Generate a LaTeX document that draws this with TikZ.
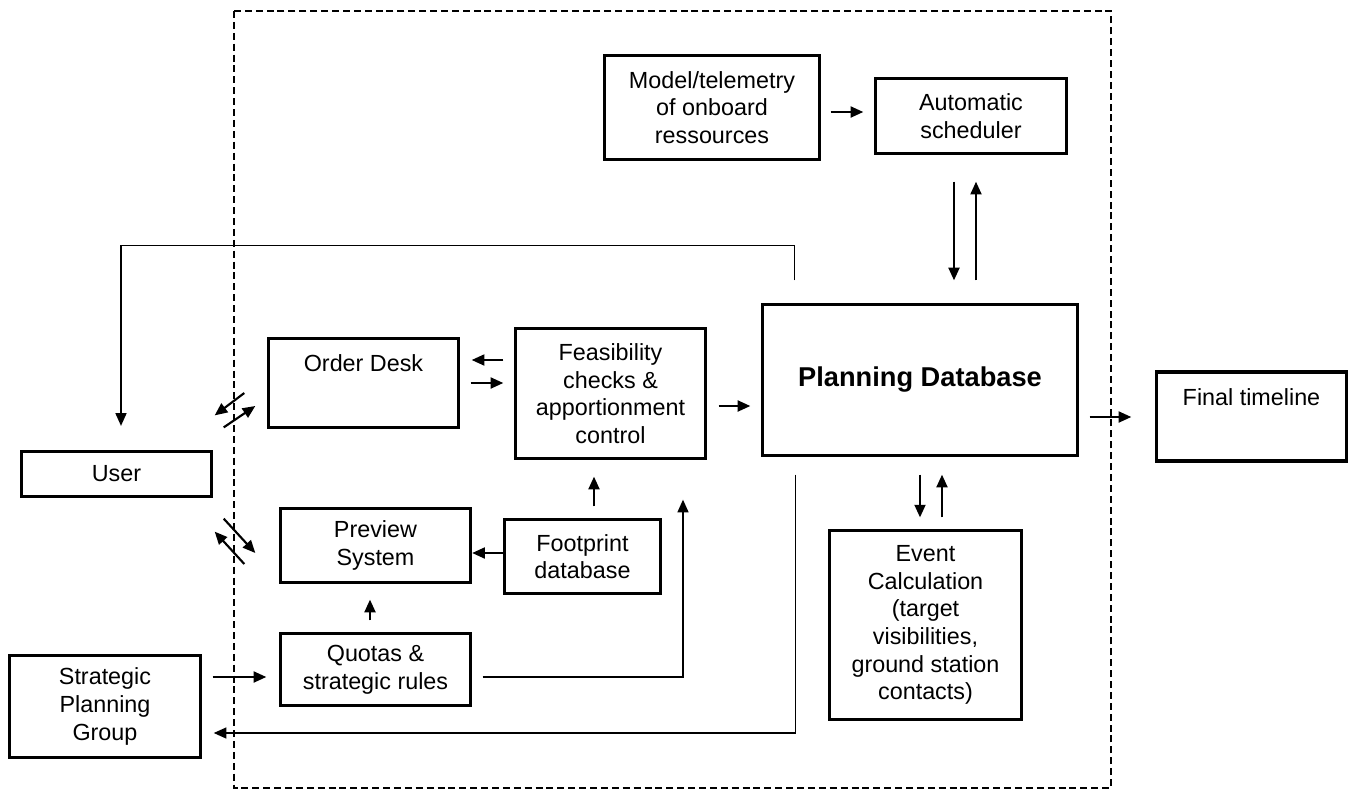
\documentclass[tikz,border=0pt]{standalone}
\usepackage{fontspec}
\setmainfont{Liberation Sans}
\usetikzlibrary{arrows.meta}
\begin{document}
\begin{tikzpicture}[x=0.514pt,y=-0.514pt,
  box/.style={draw,line width=1.7pt,align=center,inner sep=0pt,font=\fontsize{12}{14.2}\selectfont},
  topbox/.style={box,text height=8.6pt,text depth=20pt,inner ysep=8.5pt},
  arr/.style={line width=1.1pt,-{Triangle[length=6.5pt,width=5.6pt]}},
  feed/.style={line width=0.8pt,-{Triangle[length=6.5pt,width=5.6pt]}}]
  \useasboundingbox (0,0) rectangle (1349,789);
  \draw[line width=0.8pt,dash pattern=on 3.6pt off 2pt] (234,11) rectangle (1111,788);

  \node[box,minimum width=110.5pt,minimum height=53.5pt] (model) at (712,107.5) {Model/telemetry\\of onboard\\ressources};
  \node[box,minimum width=98.2pt,minimum height=38.6pt] (sched) at (971,116) {Automatic\\scheduler};
  \node[box,minimum width=161.9pt,minimum height=77.6pt,font=\fontsize{14}{17}\selectfont\bfseries] (pdb) at (920,380) {Planning Database};
  \node[topbox,minimum width=97.7pt] (final) at (1251.5,416.5) {Final timeline};
  \node[topbox,minimum width=97.7pt] (order) at (363.5,383) {Order Desk};
  \node[box,minimum width=97.7pt,minimum height=66.8pt] (feas) at (610.5,393.5) {Feasibility\\checks \&\\apportionment\\control};
  \node[box,minimum width=97.7pt,minimum height=23.1pt] (user) at (116.5,474) {User};
  \node[box,minimum width=97.7pt,minimum height=38pt] (preview) at (375.5,545.5) {Preview\\System};
  \node[box,minimum width=80.2pt,minimum height=38pt] (foot) at (582.5,556.5) {Footprint\\database};
  \node[box,minimum width=97.7pt,minimum height=37pt] (quotas) at (375.5,669.5) {Quotas \&\\strategic rules};
  \node[box,minimum width=98.2pt,minimum height=52.4pt] (strat) at (105,706.5) {Strategic\\Planning\\Group};
  \node[box,minimum width=98.7pt,minimum height=97.1pt] (event) at (925.5,625) {Event\\Calculation\\(target\\visibilities,\\ground station\\contacts)};

  \draw[arr] ([shift={(9.5,4.5)}]model.east) -- ([shift={(-10.5,-4)}]sched.west);
  \draw[arr] ([shift={(-17,26.5)}]sched.south) -- ([shift={(34,-22.5)}]pdb.north);
  \draw[arr] ([shift={(56,-22.5)}]pdb.north) -- ([shift={(5,26.5)}]sched.south);
  \draw[arr] ([shift={(11.5,12.5)}]feas.east) -- ([shift={(-10.5,26)}]pdb.west);
  \draw[arr] ([shift={(-10.5,-33.5)}]feas.west) -- ([shift={(11.5,-23)}]order.east);
  \draw[arr] ([shift={(10.5,0)}]order.east) -- ([shift={(-10.5,-10.5)}]feas.west);
  \draw[arr] ([shift={(10.5,37)}]pdb.east) -- ([shift={(-23.5,0.5)}]final.west);
  \draw[arr] ([shift={(0,17.5)}]pdb.south) -- ([shift={(-5.5,-11.5)}]event.north);
  \draw[arr] ([shift={(16.5,-11.5)}]event.north) -- ([shift={(22,17.5)}]pdb.south);
  \draw[arr] ([shift={(11.5,-11.5)}]foot.north) -- ([shift={(-16.5,16.5)}]feas.south);
  \draw[arr] ([shift={(0,-3.5)}]foot.west) -- ([shift={(0,7.5)}]preview.east);
  \draw[arr] ([shift={(-5.5,-11.5)}]quotas.north) -- ([shift={(-5.5,15.5)}]preview.south);
  \draw[arr] ([shift={(10.5,-29.5)}]strat.east) -- ([shift={(-12.5,7.5)}]quotas.west);

  % user <-> order desk and preview, across the boundary
  \draw[arr] ([shift={(-22.5,10)}]order.west) -- ([shift={(1.5,-34.5)}]user.north east);
  \draw[arr] ([shift={(10.5,-22.5)}]user.north east) -- ([shift={(-11.5,23)}]order.west);
  \draw[arr] ([shift={(10.5,20.5)}]user.south east) -- ([shift={(-23.5,7.5)}]preview.west);
  \draw[arr] ([shift={(-34.5,18.5)}]preview.west) -- ([shift={(1.5,33.5)}]user.south east);

  % feedback lines
  \draw[feed] ([shift={(10.5,7.5)}]quotas.east) -| ([shift={(72.5,39.5)}]feas.south);
  \draw[feed] ([shift={(34.5,17.5)}]pdb.south west) |- ([shift={(11.5,26.5)}]strat.east);
  \draw[feed] ([shift={(33.5,-22.5)}]pdb.north west) -- ++(0,-35) -| ([shift={(4.5,-24)}]user.north);
\end{tikzpicture}
\end{document}
